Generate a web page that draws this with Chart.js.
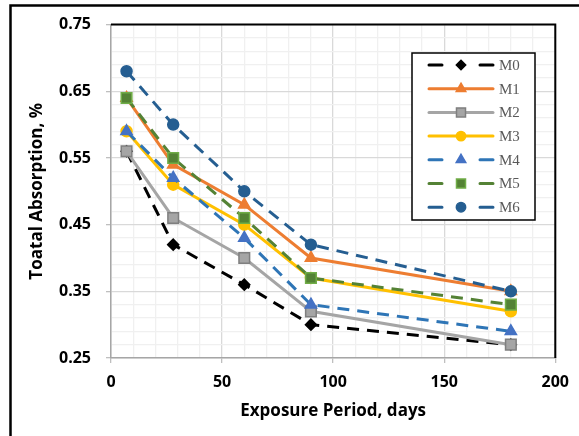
<!DOCTYPE html>
<html>
<head>
<meta charset="utf-8">
<script src="https://cdn.jsdelivr.net/npm/chart.js@4.4.0/dist/chart.umd.min.js"></script>
<style>
  html, body { margin: 0; padding: 0; background: #fff; }
  #wrap { width: 579px; height: 436px; position: relative; }
</style>
</head>
<body>
<div id="wrap"><canvas id="chart" width="579" height="436"></canvas></div>
<script>
// Exposure period (days) and total absorption (%) for each mix
const days = [7, 28, 60, 90, 180];
const m0 = [0.56, 0.42, 0.36, 0.30, 0.27];
const m1 = [0.64, 0.54, 0.48, 0.40, 0.35];
const m2 = [0.56, 0.46, 0.40, 0.32, 0.27];
const m3 = [0.59, 0.51, 0.45, 0.37, 0.32];
const m4 = [0.59, 0.52, 0.43, 0.33, 0.29];
const m5 = [0.64, 0.55, 0.46, 0.37, 0.33];
const m6 = [0.68, 0.60, 0.50, 0.42, 0.35];
const seriesNames = ['M0', 'M1', 'M2', 'M3', 'M4', 'M5', 'M6'];

// Axis ticks
const xMajorTicks = [0, 50, 100, 150, 200];
const yMajorTicks = [0.25, 0.35, 0.45, 0.55, 0.65, 0.75];

// minor grid: 5 steps per major step
function withMinor(major) {
    const out = [];
    for (let i = 0; i < major.length - 1; i++) {
        const step = (major[i + 1] - major[i]) / 5;
        for (let k = 0; k < 5; k++) out.push(Math.round((major[i] + k * step) * 1000) / 1000);
    }
    out.push(major[major.length - 1]);
    return out;
}
const isMajor = (list, v) => list.some(m => Math.abs(m - v) < 1e-6);

const styles = [
    { line: '#000000', fill: '#000000', border: '#000000', point: 'rectRot', r: 5.5, dash: true },
    { line: '#ED7D31', fill: '#ED7D31', border: '#ED7D31', point: 'triangle', r: 6.5, dash: false },
    { line: '#A5A5A5', fill: '#A5A5A5', border: '#7F7F7F', point: 'rect', r: 7.5, dash: false },
    { line: '#FFC000', fill: '#FFC000', border: '#FFC000', point: 'circle', r: 5.5, dash: false },
    { line: '#2E75B6', fill: '#4472C4', border: '#4472C4', point: 'triangle', r: 6.5, dash: true },
    { line: '#548235', fill: '#548235', border: '#70AD47', point: 'rect', r: 7.5, dash: true },
    { line: '#255E91', fill: '#255E91', border: '#255E91', point: 'circle', r: 5.5, dash: true }
];
const values = [m0, m1, m2, m3, m4, m5, m6];

const datasets = values.map((vals, i) => {
    const s = styles[i];
    return {
        label: seriesNames[i],
        data: days.map((d, j) => ({ x: d, y: vals[j] })),
        borderColor: s.line,
        borderWidth: 3,
        borderDash: s.dash ? [12, 8] : [],
        pointStyle: s.point,
        pointRadius: s.r,
        pointBackgroundColor: s.fill,
        pointBorderColor: s.border,
        pointBorderWidth: 1.5,
        tension: 0,
        order: 10 - i,
        clip: false
    };
});

const tickFont = { family: "'Open Sans', sans-serif", size: 16, weight: 'bold' };

// outer frame of the chart object (left and top edges visible)
const framePlugin = {
    id: 'frame',
    beforeDraw(chart) {
        const ctx = chart.ctx;
        ctx.save();
        ctx.fillStyle = '#fff';
        ctx.fillRect(0, 0, chart.width, chart.height);
        ctx.strokeStyle = '#000';
        ctx.lineWidth = 2.5;
        ctx.beginPath();
        ctx.moveTo(10.5, chart.height);
        ctx.lineTo(10.5, 5.5);
        ctx.lineTo(chart.width, 5.5);
        ctx.stroke();
        ctx.restore();
    },
    afterDatasetsDraw(chart) {
        // plot area border: top and right in black
        const a = chart.chartArea, ctx = chart.ctx;
        ctx.save();
        ctx.strokeStyle = '#000';
        ctx.lineWidth = 2;
        ctx.beginPath();
        ctx.moveTo(a.left, a.top);
        ctx.lineTo(a.right, a.top);
        ctx.lineTo(a.right, a.bottom);
        ctx.stroke();
        ctx.restore();
    }
};

// legend box drawn in the Excel style (line + marker sample)
const legendPlugin = {
    id: 'boxLegend',
    afterDraw(chart) {
        const ctx = chart.ctx;
        const box = { x: 412, y: 53, w: 123, h: 167 };
        ctx.save();
        ctx.fillStyle = '#fff';
        ctx.fillRect(box.x, box.y, box.w, box.h);
        ctx.strokeStyle = '#000';
        ctx.lineWidth = 1.5;
        ctx.strokeRect(box.x, box.y, box.w, box.h);
        chart.data.datasets.forEach((ds, i) => {
            const s = styles[i];
            const y = 65 + i * 23.7;
            ctx.strokeStyle = s.line;
            ctx.lineWidth = 3;
            ctx.lineCap = 'round';
            ctx.beginPath();
            if (s.dash) {
                ctx.moveTo(429, y); ctx.lineTo(442, y);
                ctx.moveTo(480, y); ctx.lineTo(493, y);
            } else {
                ctx.moveTo(429, y); ctx.lineTo(493, y);
            }
            ctx.stroke();
            ctx.fillStyle = s.fill;
            ctx.strokeStyle = s.border;
            ctx.lineWidth = 1.5;
            Chart.helpers.drawPoint(ctx, { pointStyle: s.point, radius: s.r * 0.85, rotation: 0, borderWidth: 1.5 }, 461, y);
            ctx.fillStyle = '#595959';
            ctx.font = "15px 'Liberation Serif', serif";
            ctx.textBaseline = 'middle';
            ctx.textAlign = 'left';
            ctx.fillText(ds.label, 499, y + 1);
        });
        ctx.restore();
    }
};

new Chart(document.getElementById('chart'), {
    type: 'line',
    data: { datasets: datasets },
    options: {
        responsive: false,
        animation: false,
        events: [],
        layout: { padding: { top: 23, right: 22, left: 0, bottom: 0 } },
        plugins: {
            legend: { display: false },
            tooltip: { enabled: false }
        },
        scales: {
            x: {
                type: 'linear',
                min: 0,
                max: 200,
                afterBuildTicks: s => { s.ticks = withMinor(xMajorTicks).map(v => ({ value: v })); },
                afterFit: s => { s.height = 78; },
                ticks: {
                    autoSkip: false,
                    maxRotation: 0,
                    padding: 10,
                    color: '#000',
                    font: tickFont,
                    callback: v => isMajor(xMajorTicks, v) ? String(v) : ''
                },
                grid: {
                    color: c => isMajor(xMajorTicks, c.tick.value) ? '#D9D9D9' : '#F0F0F0',
                    tickColor: c => isMajor(xMajorTicks, c.tick.value) ? '#BFBFBF' : 'rgba(0,0,0,0)',
                    tickLength: 5,
                    lineWidth: 1.3
                },
                border: { color: '#A6A6A6', width: 1.5 },
                title: {
                    display: true,
                    text: 'Exposure Period, days',
                    color: '#000',
                    font: { family: "'Open Sans', sans-serif", size: 17, weight: 'bold' },
                    padding: { top: 0, bottom: 15 }
                }
            },
            y: {
                type: 'linear',
                min: 0.25,
                max: 0.75,
                afterBuildTicks: s => { s.ticks = withMinor(yMajorTicks).map(v => ({ value: v })); },
                afterFit: s => { s.width = 111; },
                ticks: {
                    autoSkip: false,
                    padding: 15,
                    color: '#000',
                    font: tickFont,
                    callback: v => isMajor(yMajorTicks, v) ? v.toFixed(2) : ''
                },
                grid: {
                    color: c => isMajor(yMajorTicks, c.tick.value) ? '#D9D9D9' : '#F0F0F0',
                    tickColor: c => isMajor(yMajorTicks, c.tick.value) ? '#BFBFBF' : 'rgba(0,0,0,0)',
                    tickLength: 5,
                    lineWidth: 1.3
                },
                border: { color: '#A6A6A6', width: 1.5 },
                title: {
                    display: true,
                    text: 'Toatal Absorption, %',
                    color: '#000',
                    font: { family: "'Open Sans', sans-serif", size: 17, weight: 'bold' },
                    padding: { top: 27, bottom: 0 }
                }
            }
        }
    },
    plugins: [framePlugin, legendPlugin]
});
</script>
</body>
</html>
